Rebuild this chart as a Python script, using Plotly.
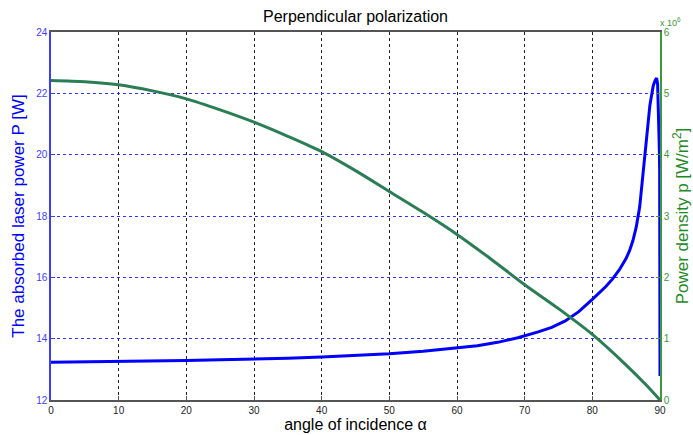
import plotly.graph_objects as go

# Absorbed laser power P [W] vs angle of incidence
angle_P = [0, 5, 10, 15, 20, 25, 30, 35, 40, 45, 50, 55, 60, 63, 66, 69, 72, 74, 76, 78,
           80, 81, 82, 83, 84, 85, 85.5, 86, 86.5, 87, 87.5, 88, 88.5, 89, 89.3, 89.5,
           89.65, 89.8, 89.9, 89.95, 90]
P = [13.23, 13.24, 13.25, 13.27, 13.29, 13.31, 13.33, 13.36, 13.40, 13.45, 13.51, 13.59,
     13.69, 13.77, 13.88, 14.03, 14.22, 14.37, 14.58, 14.88,
     15.28, 15.48, 15.7, 15.95, 16.25, 16.62, 16.87, 17.2, 17.65, 18.3, 19.3, 20.5, 21.6,
     22.25, 22.43, 22.5, 22.3, 21.4, 20.2, 19.5, 12.78]

# Power density p [x10^6 W/m^2] vs angle of incidence
angle_p = [0, 5, 10, 15, 20, 25, 30, 35, 40, 45, 50, 55, 60, 65, 70, 75, 80, 85, 88, 90]
p = [5.21, 5.19, 5.14, 5.04, 4.91, 4.73, 4.53, 4.30, 4.05, 3.74, 3.40, 3.06, 2.70, 2.30,
     1.88, 1.49, 1.07, 0.57, 0.24, 0.0]

x_ticks = [0, 10, 20, 30, 40, 50, 60, 70, 80, 90]
left_ticks = [12, 14, 16, 18, 20, 22, 24]
right_ticks = [0, 1, 2, 3, 4, 5, 6]

BLUE = "#0000ff"
BLUE_TXT = "#3c3cff"
GREEN_LINE = "#2a7d55"
GREEN_AX = "#3a9a3a"
FONT = "Arial, Liberation Sans, sans-serif"

fig = go.Figure()
fig.add_trace(go.Scatter(x=angle_P, y=P, mode="lines",
                         line=dict(color=BLUE, width=3), yaxis="y", showlegend=False))
fig.add_trace(go.Scatter(x=angle_p, y=p, mode="lines",
                         line=dict(color=GREEN_LINE, width=3, shape="spline", smoothing=0.8),
                         yaxis="y2", showlegend=False))

fig.update_layout(
    width=693, height=435,
    margin=dict(l=51, r=33, t=32, b=35),
    paper_bgcolor="white", plot_bgcolor="white",
    font=dict(family=FONT),
    title=dict(text="Perpendicular polarization", x=0.5, xanchor="center",
               xref="paper", y=0.962, yanchor="middle",
               font=dict(size=16, color="black", family=FONT)),
    xaxis=dict(range=[0, 90], tickvals=x_ticks, ticktext=[str(v) for v in x_ticks],
               showgrid=True, gridcolor="#222222", griddash="dot", gridwidth=1,
               showline=True, linecolor="#555555", linewidth=1.5, mirror=True,
               ticks="inside", ticklen=4, tickcolor="#555555", zeroline=False,
               tickfont=dict(size=10, color="#222222", family=FONT),
               title=dict(text="angle of incidence α", standoff=2,
                          font=dict(size=16, color="black", family=FONT)),
               automargin=False),
    yaxis=dict(range=[12, 24], tickvals=left_ticks, ticktext=[str(v) for v in left_ticks],
               showgrid=True, gridcolor="#3333ff", griddash="dot", gridwidth=1,
               showline=True, linecolor=BLUE_TXT, linewidth=1.5,
               ticks="inside", ticklen=4, tickcolor=BLUE_TXT, zeroline=False,
               tickfont=dict(size=10, color=BLUE_TXT, family=FONT),
               title=dict(text="The absorbed laser power P [W]", standoff=7,
                          font=dict(size=17, color=BLUE, family=FONT)),
               automargin=False),
    yaxis2=dict(range=[0, 6], tickvals=right_ticks, ticktext=[str(v) for v in right_ticks],
                overlaying="y", side="right", showgrid=False,
                showline=True, linecolor=GREEN_AX, linewidth=1.5,
                ticks="inside", ticklen=4, tickcolor=GREEN_AX, zeroline=False,
                tickfont=dict(size=10, color=GREEN_AX, family=FONT),
                title=dict(text="Power density p [W/m<sup>2</sup>]", standoff=3,
                           font=dict(size=17, color="#1f8a1f", family=FONT)),
                automargin=False),
    annotations=[dict(text="x 10<sup>6</sup>", xref="paper", yref="paper",
                      x=1.0, y=1.0, xanchor="left", yanchor="bottom", showarrow=False,
                      xshift=-2, yshift=2,
                      font=dict(size=9, color=GREEN_AX, family=FONT))],
)

fig.write_html("out.html", config={"displayModeBar": False},
               post_script="document.body.style.margin='0';document.body.style.overflow='hidden';")
